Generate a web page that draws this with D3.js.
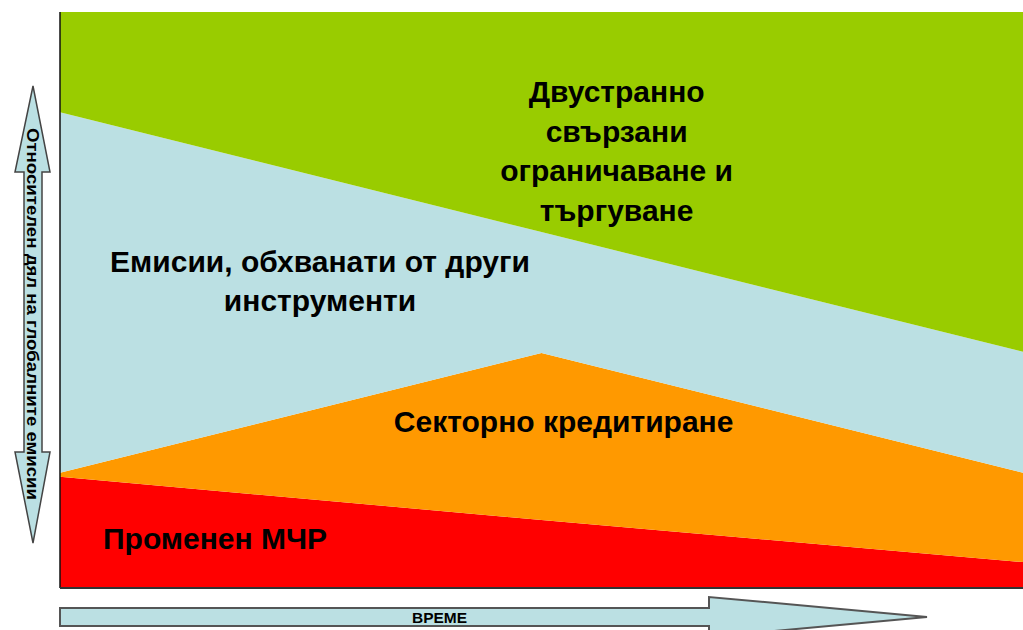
<!DOCTYPE html>
<html><head><meta charset="utf-8">
<script src="https://cdn.jsdelivr.net/npm/d3@7"></script>
<style>
html,body{margin:0;padding:0;background:#fff;}
svg{display:block;}
text{font-family:"Liberation Sans",Arial,sans-serif;font-weight:bold;fill:#000;}
</style></head>
<body>
<svg id="c" width="1023" height="630"></svg>
<script>
// ---- data ----
const times = [0, 5, 10];
const seriesKeys = ["mchr", "sector", "other", "capTrade"];
const mchr     = [19.3, 11.8, 4.5];   // Променен МЧР
const sector   = [0.7, 29.0, 15.5];   // Секторно кредитиране
const other    = [62.6, 21.0, 21.0];  // Емисии, обхванати от други инструменти
const capTrade = [17.4, 38.2, 59.0];  // Двустранно свързани ограничаване и търгуване
const colors   = ["#ff0000", "#ff9900", "#bbe0e3", "#99cc00"];
const labelLines = [
  ["Променен МЧР"],
  ["Секторно кредитиране"],
  ["Емисии, обхванати от други", "инструменти"],
  ["Двустранно", "свързани", "ограничаване и", "търгуване"]
];
const yAxisTitle = "Относителен дял на глобалните емисии";
const xAxisTitle = "ВРЕМЕ";

// ---- layout ----
const svg = d3.select("#c");
const L = 60, R = 1023, T = 12, B = 588;
const x = d3.scaleLinear().domain([0, 10]).range([L, R]);
const y = d3.scaleLinear().domain([0, 100]).range([B, T]);

const table = times.map((t, i) => ({t, mchr: mchr[i], sector: sector[i], other: other[i], capTrade: capTrade[i]}));
const stacked = d3.stack().keys(seriesKeys)(table);
const area = d3.area().x(d => x(d.data.t)).y0(d => y(d[0])).y1(d => y(d[1])).curve(d3.curveLinear);

svg.append("g").selectAll("path").data(stacked).join("path")
  .attr("d", area).attr("fill", (d, i) => colors[i]);

// axes lines (left + bottom)
svg.append("line").attr("x1", L).attr("x2", L).attr("y1", T).attr("y2", B).attr("stroke", "#111").attr("stroke-width", 1.5);
svg.append("line").attr("x1", L).attr("x2", R).attr("y1", B).attr("y2", B).attr("stroke", "#333").attr("stroke-width", 2);

// labels
const lab = svg.append("g").attr("font-size", 30).attr("text-anchor", "middle");
function block(lines, cx, firstBase, lh) {
  lines.forEach((s, i) => lab.append("text").attr("x", cx).attr("y", firstBase + i * lh).text(s));
}
block(labelLines[3], x(5.78), 102, 39.5);
block(labelLines[2], x(2.7), 272, 39);
block(labelLines[1], x(5.23), 432, 0);
block(labelLines[0], x(1.61), 549, 0);

// vertical double arrow
const va = d3.path();
const cxv = 33;
va.moveTo(cxv, 86);
va.lineTo(50, 172); va.lineTo(42, 172); va.lineTo(42, 452); va.lineTo(50, 452);
va.lineTo(cxv, 543);
va.lineTo(15, 452); va.lineTo(24, 452); va.lineTo(24, 172); va.lineTo(15, 172);
va.closePath();
svg.append("path").attr("d", va.toString()).attr("fill", "#bbe0e3").attr("stroke", "#444").attr("stroke-width", 1.5);
svg.append("text").attr("transform", `translate(${cxv - 6},128) rotate(90)`)
  .attr("font-size", 16).attr("textLength", 372).attr("lengthAdjust", "spacingAndGlyphs")
  .text(yAxisTitle);

// horizontal arrow
const ha = d3.path();
ha.moveTo(60, 608); ha.lineTo(709, 608); ha.lineTo(709, 597); ha.lineTo(927, 617);
ha.lineTo(709, 637); ha.lineTo(709, 626); ha.lineTo(60, 626); ha.closePath();
svg.append("path").attr("d", ha.toString()).attr("fill", "#bbe0e3").attr("stroke", "#555").attr("stroke-width", 2);
svg.append("text").attr("x", 412).attr("y", 623).attr("font-size", 15)
  .attr("textLength", 55).attr("lengthAdjust", "spacingAndGlyphs").text(xAxisTitle);
</script>
</body></html>
